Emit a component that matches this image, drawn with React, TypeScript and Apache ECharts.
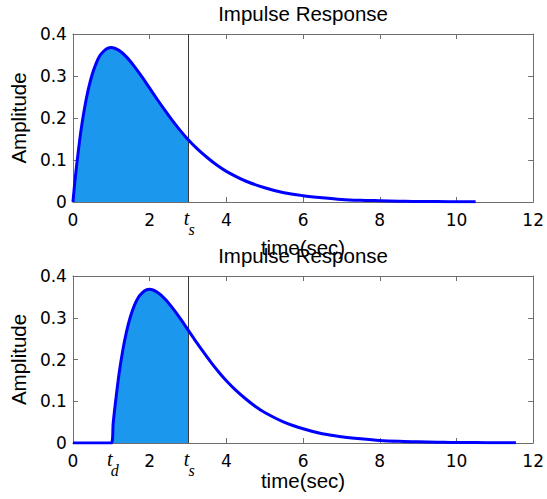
import React, { useEffect, useRef } from "react";
import * as echarts from "echarts";

// time samples (sec) and amplitude
const T1 = [0, 0.05, 0.1, 0.2, 0.3, 0.4, 0.5, 0.6, 0.7, 0.8, 0.9, 1.0, 1.2, 1.4, 1.6, 1.8, 2.0, 2.2, 2.4, 2.6, 2.8, 3.0, 3.25, 3.5, 3.75, 4.0, 4.5, 5.0, 5.5, 6.0, 6.5, 7.0, 7.5, 8.0, 8.5, 9.0, 9.5, 10.0, 10.5];
const Y1 = [0, 0.048, 0.09, 0.164, 0.222, 0.268, 0.303, 0.329, 0.348, 0.359, 0.366, 0.368, 0.361, 0.345, 0.323, 0.298, 0.271, 0.244, 0.218, 0.193, 0.17, 0.149, 0.126, 0.106, 0.088, 0.073, 0.05, 0.034, 0.022, 0.015, 0.01, 0.006, 0.004, 0.003, 0.002, 0.001, 0.001, 0.0005, 0.0003];

// lower plot (delayed response)
const T2 = [0, 0.5, 1.0, 1.05, 1.1, 1.2, 1.3, 1.4, 1.5, 1.6, 1.7, 1.8, 1.9, 2.0, 2.2, 2.4, 2.6, 2.8, 3.0, 3.2, 3.4, 3.6, 3.8, 4.0, 4.25, 4.5, 4.75, 5.0, 5.5, 6.0, 6.5, 7.0, 7.5, 8.0, 8.5, 9.0, 9.5, 10.0, 10.5, 11.0, 11.55];
const Y2 = [0, 0, 0, 0.048, 0.09, 0.164, 0.222, 0.268, 0.303, 0.329, 0.348, 0.359, 0.366, 0.368, 0.361, 0.345, 0.323, 0.298, 0.271, 0.244, 0.218, 0.193, 0.17, 0.149, 0.126, 0.106, 0.088, 0.073, 0.05, 0.034, 0.022, 0.015, 0.01, 0.006, 0.004, 0.003, 0.002, 0.001, 0.001, 0.0005, 0.0003];

const TS = 3; // settling-time marker
const TD = 1; // delay-time marker
const X_TICKS = [0, 2, 4, 6, 8, 10, 12];
const Y_TICKS = [0, 0.1, 0.2, 0.3, 0.4];
const TITLE = "Impulse Response";
const X_NAME = "time(sec)";
const Y_NAME = "Amplitude";

const FONT = "'Liberation Sans', Arial, Helvetica, sans-serif";
const TICK_FONT = "'DejaVu Sans', 'Liberation Sans', sans-serif";
const SERIF = "'Liberation Serif', 'Times New Roman', serif";
const AXIS_COLOR = "#6e6e6e";

export default function App() {
  const ref = useRef<HTMLDivElement>(null);
  useEffect(() => {
    document.body.style.margin = "0";
    const chart = echarts.init(ref.current!, null, { renderer: "svg" });

    const pairs = (t: number[], y: number[]) => t.map((v, i) => [v, y[i]]);
    const upTo = (t: number[], y: number[], lim: number) =>
      t.map((v, i) => [v, y[i]]).filter((p) => p[0] <= lim);

    const grids = [
      { left: 68, top: 34, width: 469, height: 168 },
      { left: 68, top: 276, width: 469, height: 167 },
    ];

    const xMain = (gi: number, gap: number) => ({
      type: "value",
      gridIndex: gi,
      min: X_TICKS[0],
      max: X_TICKS[X_TICKS.length - 1],
      interval: X_TICKS[1] - X_TICKS[0],
      position: "bottom",
      name: X_NAME,
      nameLocation: "middle",
      nameGap: gap,
      nameTextStyle: { fontFamily: FONT, fontSize: 20.5, color: "#000" },
      axisLine: { show: true, lineStyle: { color: AXIS_COLOR, width: 1 } },
      axisTick: { show: true, inside: true, length: 5, lineStyle: { color: AXIS_COLOR } },
      axisLabel: { fontFamily: TICK_FONT, fontSize: 17, color: "#000", margin: 9 },
      splitLine: { show: false },
    });
    const xTop = (gi: number) => ({
      type: "value",
      gridIndex: gi,
      min: X_TICKS[0],
      max: X_TICKS[X_TICKS.length - 1],
      interval: X_TICKS[1] - X_TICKS[0],
      position: "top",
      axisLine: { show: true, onZero: false, lineStyle: { color: AXIS_COLOR, width: 1 } },
      axisTick: { show: true, inside: true, length: 5, lineStyle: { color: AXIS_COLOR } },
      axisLabel: { show: false },
      splitLine: { show: false },
    });
    const yMain = (gi: number) => ({
      type: "value",
      gridIndex: gi,
      min: Y_TICKS[0],
      max: Y_TICKS[Y_TICKS.length - 1],
      interval: Y_TICKS[1] - Y_TICKS[0],
      position: "left",
      name: Y_NAME,
      nameLocation: "middle",
      nameGap: 42,
      nameTextStyle: { fontFamily: FONT, fontSize: 20.5, color: "#000" },
      axisLine: { show: true, lineStyle: { color: AXIS_COLOR, width: 1 } },
      axisTick: { show: true, inside: true, length: 5, lineStyle: { color: AXIS_COLOR } },
      axisLabel: { fontFamily: TICK_FONT, fontSize: 17, color: "#000", margin: 6 },
      splitLine: { show: false },
    });
    const yRight = (gi: number) => ({
      type: "value",
      gridIndex: gi,
      min: Y_TICKS[0],
      max: Y_TICKS[Y_TICKS.length - 1],
      interval: Y_TICKS[1] - Y_TICKS[0],
      position: "right",
      axisLine: { show: true, onZero: false, lineStyle: { color: AXIS_COLOR, width: 1 } },
      axisTick: { show: true, inside: true, length: 5, lineStyle: { color: AXIS_COLOR } },
      axisLabel: { show: false },
      splitLine: { show: false },
    });

    const fillSeries = (xi: number, yi: number, data: number[][]) => ({
      type: "line",
      xAxisIndex: xi,
      yAxisIndex: yi,
      data,
      smooth: 0.3,
      showSymbol: false,
      lineStyle: { width: 0 },
      areaStyle: { color: "#1b98ee", opacity: 1 },
      silent: true,
      z: 1,
    });
    const lineSeries = (xi: number, yi: number, data: number[][]) => ({
      type: "line",
      xAxisIndex: xi,
      yAxisIndex: yi,
      data,
      smooth: 0.3,
      showSymbol: false,
      lineStyle: { color: "#0000ff", width: 3 },
      itemStyle: { color: "#0000ff" },
      z: 3,
      markLine: {
        silent: true,
        symbol: "none",
        label: { show: false },
        lineStyle: { color: "#3a3a3a", width: 1, type: "solid" },
        data: [{ xAxis: TS }],
        z: 2,
      },
    });

    chart.setOption({
      animation: false,
      backgroundColor: "#fff",
      grid: grids,
      xAxis: [xMain(0, 35), xTop(0), xMain(1, 27), xTop(1)],
      yAxis: [yMain(0), yRight(0), yMain(1), yRight(1)],
      series: [
        fillSeries(0, 0, upTo(T1, Y1, TS)),
        lineSeries(0, 0, pairs(T1, Y1)),
        fillSeries(2, 2, upTo(T2, Y2, TS)),
        lineSeries(2, 2, pairs(T2, Y2)),
      ],
    });

    const graphics: any[] = [];
    const mark = (gi: number, xv: number, sub: string) => {
      const p = chart.convertToPixel({ gridIndex: gi } as any, [xv, 0]) as number[];
      graphics.push({
        type: "text",
        x: p[0] - 1.5,
        y: p[1] + 15.5,
        style: { text: "t", font: `italic 20px ${SERIF}`, fill: "#000", align: "center", verticalAlign: "middle" },
      });
      graphics.push({
        type: "text",
        x: p[0] + 3.5,
        y: p[1] + 27.5,
        style: { text: sub, font: `italic 16px ${SERIF}`, fill: "#000", align: "center", verticalAlign: "middle" },
      });
    };
    mark(0, TS, "s");
    mark(1, TD, "d");
    mark(1, TS, "s");
    [0, 1].forEach((gi) => {
      const l = chart.convertToPixel({ gridIndex: gi } as any, [X_TICKS[0], Y_TICKS[Y_TICKS.length - 1]]) as number[];
      const r = chart.convertToPixel({ gridIndex: gi } as any, [X_TICKS[X_TICKS.length - 1], Y_TICKS[Y_TICKS.length - 1]]) as number[];
      graphics.push({
        type: "text",
        x: (l[0] + r[0]) / 2,
        y: l[1] - 21,
        z: 10,
        style: { text: TITLE, font: `20.5px ${FONT}`, fill: "#000", align: "center", verticalAlign: "middle" },
      });
    });
    chart.setOption({ graphic: graphics });

    return () => chart.dispose();
  }, []);
  return <div ref={ref} style={{ width: 547, height: 499 }} />;
}
